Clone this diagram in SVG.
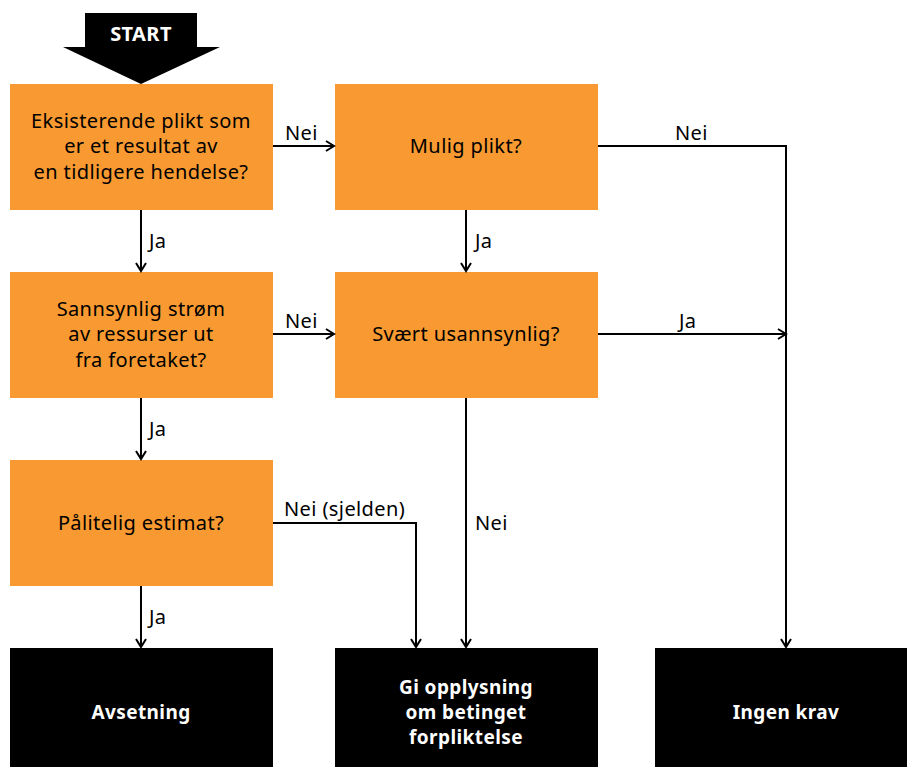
<svg xmlns="http://www.w3.org/2000/svg" width="907" height="767" viewBox="0 0 907 767">
<style>
.q{fill:#F89A31}
.e{fill:#000}
.t{font-family:"Noto Sans",sans-serif;font-size:20px;letter-spacing:0.4px;fill:#000;text-anchor:middle}
.w{font-family:"Noto Sans",sans-serif;font-size:19px;letter-spacing:0.4px;font-weight:bold;fill:#fff;text-anchor:middle}
.l{font-family:"Noto Sans",sans-serif;font-size:20px;letter-spacing:0.4px;fill:#000}
.c{fill:none;stroke:#000;stroke-width:2}
</style>
<defs>
<marker id="a" markerWidth="12" markerHeight="12" refX="9" refY="6" orient="auto" markerUnits="userSpaceOnUse">
<path d="M1,1 L9,6 L1,11" fill="none" stroke="#000" stroke-width="2"/>
</marker>
</defs>
<rect width="907" height="767" fill="#fff"/>
<g id="start">
<polygon points="85,13 197,13 197,47 220,47 141,84 63,47 85,47" fill="#000"/>
<text x="141" y="41" class="w" style="font-size:20px">START</text>
</g>
<g id="n1"><rect class="q" x="10" y="84" width="263" height="126"/>
<text class="t" x="141" y="128">Eksisterende plikt som</text>
<text class="t" x="141" y="153">er et resultat av</text>
<text class="t" x="141" y="179">en tidligere hendelse?</text></g>
<g id="n2"><rect class="q" x="335" y="84" width="263" height="126"/>
<text class="t" x="466" y="153">Mulig plikt?</text></g>
<g id="n3"><rect class="q" x="10" y="272" width="263" height="126"/>
<text class="t" x="141" y="316">Sannsynlig strøm</text>
<text class="t" x="141" y="341">av ressurser ut</text>
<text class="t" x="141" y="367">fra foretaket?</text></g>
<g id="n4"><rect class="q" x="335" y="272" width="263" height="126"/>
<text class="t" x="466" y="341">Svært usannsynlig?</text></g>
<g id="n5"><rect class="q" x="10" y="460" width="263" height="126"/>
<text class="t" x="141" y="530">Pålitelig estimat?</text></g>
<g id="n6"><rect class="e" x="10" y="648" width="263" height="119"/>
<text class="w" x="141" y="719">Avsetning</text></g>
<g id="n7"><rect class="e" x="335" y="648" width="263" height="119"/>
<text class="w" x="466" y="694">Gi opplysning</text>
<text class="w" x="466" y="719">om betinget</text>
<text class="w" x="466" y="744">forpliktelse</text></g>
<g id="n8"><rect class="e" x="655" y="648" width="252" height="119"/>
<text class="w" x="786" y="719">Ingen krav</text></g>
<g id="connectors">
<path class="c" d="M141,210 V271" marker-end="url(#a)"/>
<path class="c" d="M141,398 V459" marker-end="url(#a)"/>
<path class="c" d="M141,586 V647" marker-end="url(#a)"/>
<path class="c" d="M273,146 H334" marker-end="url(#a)"/>
<path class="c" d="M273,334 H334" marker-end="url(#a)"/>
<path class="c" d="M466,210 V271" marker-end="url(#a)"/>
<path class="c" d="M466,398 V647" marker-end="url(#a)"/>
<path class="c" d="M598,146 H786 V647" marker-end="url(#a)"/>
<path class="c" d="M598,334 H786" marker-end="url(#a)"/>
<path class="c" d="M273,523 H416 V647" marker-end="url(#a)"/>
<text class="l" x="149" y="248">Ja</text>
<text class="l" x="149" y="436">Ja</text>
<text class="l" x="149" y="624">Ja</text>
<text class="l" x="475" y="248">Ja</text>
<text class="l" x="285" y="140">Nei</text>
<text class="l" x="285" y="328">Nei</text>
<text class="l" x="675" y="140">Nei</text>
<text class="l" x="679" y="328">Ja</text>
<text class="l" x="475" y="530">Nei</text>
<text class="l" x="284" y="516">Nei (sjelden)</text>
</g>
</svg>
